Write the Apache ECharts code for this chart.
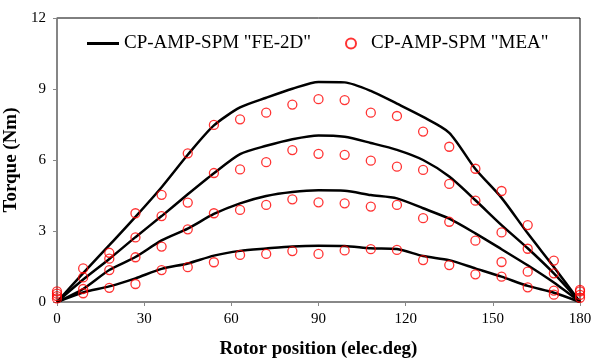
<!DOCTYPE html>
<html>
<head>
<meta charset="utf-8">
<script src="https://cdn.jsdelivr.net/npm/echarts@6/dist/echarts.min.js"></script>
<style>html,body{margin:0;padding:0;background:#fff}#c{width:593px;height:359px}</style>
</head>
<body>
<div id="c"></div>
<script>
// Rotor position (elec.deg)
var positions = [0, 9, 18, 27, 36, 45, 54, 63, 72, 81, 90, 99, 108, 117, 126, 135, 144, 153, 162, 171, 180];
var xTicks = [0, 30, 60, 90, 120, 150, 180];
var yTicks = [0, 3, 6, 9, 12];

// FE-2D torque curves (Nm)
var fe1 = [0, 0.40, 0.66, 1.00, 1.40, 1.63, 1.96, 2.16, 2.26, 2.35, 2.38, 2.37, 2.27, 2.24, 1.94, 1.77, 1.42, 1.07, 0.68, 0.39, 0];
var fe2 = [0, 0.55, 1.35, 1.90, 2.60, 3.10, 3.72, 4.17, 4.48, 4.65, 4.72, 4.70, 4.52, 4.38, 3.96, 3.52, 2.90, 2.23, 1.55, 0.82, 0];
var fe3 = [0, 0.95, 1.82, 2.74, 3.63, 4.55, 5.44, 6.25, 6.60, 6.88, 7.04, 6.98, 6.72, 6.43, 6.00, 5.30, 4.30, 3.25, 2.27, 1.21, 0];
var fe4 = [0, 1.22, 2.40, 3.60, 4.85, 6.22, 7.46, 8.22, 8.63, 9.01, 9.30, 9.28, 8.92, 8.38, 7.82, 7.15, 5.62, 4.40, 2.90, 1.48, 0];

// MEA torque points (Nm)
var mea1 = [0.15, 0.37, 0.60, 0.76, 1.35, 1.47, 1.68, 1.99, 2.03, 2.15, 2.03, 2.18, 2.23, 2.20, 1.77, 1.56, 1.17, 1.07, 0.62, 0.31, 0.18];
var mea2 = [0.25, 0.55, 1.35, 1.89, 2.34, 3.07, 3.75, 3.89, 4.10, 4.34, 4.21, 4.17, 4.03, 4.10, 3.54, 3.39, 2.59, 1.69, 1.28, 0.48, 0.30];
var mea3 = [0.35, 1.04, 1.83, 2.73, 3.63, 4.20, 5.45, 5.60, 5.91, 6.42, 6.26, 6.22, 5.97, 5.72, 5.58, 4.99, 4.28, 2.94, 2.25, 1.21, 0.45];
var mea4 = [0.45, 1.42, 2.08, 3.75, 4.53, 6.28, 7.48, 7.72, 8.00, 8.34, 8.57, 8.53, 8.00, 7.86, 7.20, 6.56, 5.63, 4.69, 3.25, 1.75, 0.51];

var nameFE = 'CP-AMP-SPM "FE-2D"';
var nameMEA = 'CP-AMP-SPM "MEA"';
var serif = '"Liberation Serif", "Times New Roman", serif';

function pairs(ys) { return positions.map(function (x, i) { return [x, ys[i]]; }); }

var series = [];
[fe1, fe2, fe3, fe4].forEach(function (d) {
  series.push({
    name: nameFE, type: 'line', data: pairs(d), symbol: 'none', smooth: 0.25,
    lineStyle: { color: '#000', width: 2.5 }, itemStyle: { color: '#000' }, z: 2
  });
});
[mea1, mea2, mea3, mea4].forEach(function (d) {
  series.push({
    name: nameMEA, type: 'scatter', data: pairs(d), symbol: 'circle', symbolSize: 9,
    itemStyle: { color: 'rgba(255,255,255,0)', borderColor: '#ff0000', borderWidth: 1.3 }, z: 3
  });
});

var chart = echarts.init(document.getElementById('c'), null, { renderer: 'canvas' });
chart.setOption({
  animation: false,
  backgroundColor: '#fff',
  textStyle: { fontFamily: serif },
  grid: { left: 57, right: 13, top: 18, bottom: 57, show: true, borderColor: '#000', borderWidth: 1,
          backgroundColor: 'transparent', containLabel: false, outerBoundsMode: 'none' },
  legend: [
    { data: [{ name: nameFE, icon: 'rect', itemStyle: { color: '#000' } }], left: 82, top: 29, itemWidth: 32, itemHeight: 3,
      textStyle: { fontFamily: serif, fontSize: 19, color: '#000' } },
    { data: [{ name: nameMEA, icon: 'circle' }], left: 340, top: 29, itemWidth: 10, itemHeight: 10,
      textStyle: { fontFamily: serif, fontSize: 19, color: '#000', padding: [0, 0, 0, 10] } }
  ],
  xAxis: {
    type: 'value', min: xTicks[0], max: xTicks[xTicks.length - 1], interval: 30,
    name: 'Rotor position (elec.deg)', nameLocation: 'middle', nameGap: 38,
    nameTextStyle: { fontFamily: serif, fontSize: 19, fontWeight: 'bold', color: '#000' },
    axisLine: { show: true, lineStyle: { color: '#888', width: 2 } },
    axisTick: { show: true, inside: false, length: 4, lineStyle: { color: '#888' } },
    axisLabel: { fontFamily: serif, fontSize: 15, color: '#000', margin: 10 },
    splitLine: { show: false }
  },
  yAxis: {
    type: 'value', min: yTicks[0], max: yTicks[yTicks.length - 1], interval: 3,
    name: 'Torque (Nm)', nameLocation: 'middle', nameGap: 30,
    nameTextStyle: { fontFamily: serif, fontSize: 19, fontWeight: 'bold', color: '#000' },
    axisLine: { show: true, lineStyle: { color: '#888', width: 1.5 } },
    axisTick: { show: true, inside: false, length: 4, lineStyle: { color: '#888' } },
    axisLabel: { fontFamily: serif, fontSize: 15, color: '#000', margin: 11 },
    splitLine: { show: false }
  },
  series: series
});
</script>
</body>
</html>
